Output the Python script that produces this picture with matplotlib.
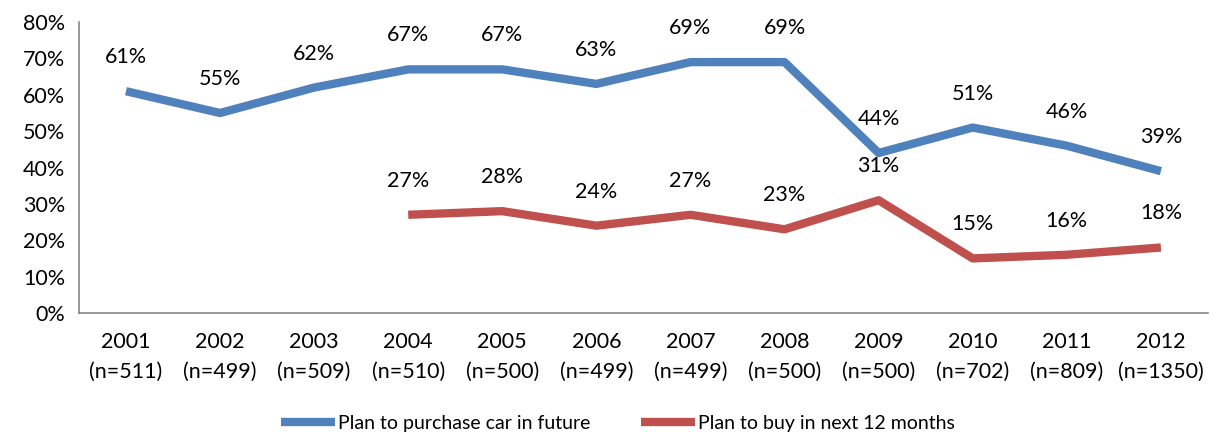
import matplotlib
matplotlib.use("Agg")
import matplotlib.pyplot as plt
import numpy as np

years = ["2001", "2002", "2003", "2004", "2005", "2006", "2007", "2008", "2009", "2010", "2011", "2012"]
ns = ["511", "499", "509", "510", "500", "499", "499", "500", "500", "702", "809", "1350"]
future = [61, 55, 62, 67, 67, 63, 69, 69, 44, 51, 46, 39]
next12 = [np.nan, np.nan, np.nan, 27, 28, 24, 27, 23, 31, 15, 16, 18]

plt.rcParams['font.family'] = ['Lato', 'DejaVu Sans']

fig = plt.figure(figsize=(12.14, 4.34), dpi=100)
ax = fig.add_axes([0.065, 0.279, 0.93, 0.67])

x = np.arange(len(years))
blue = "#4F81BD"
red = "#C0504D"
ax.plot(x, future, color=blue, lw=6, solid_joinstyle='round', solid_capstyle='butt',
        label="Plan to purchase car in future")
ax.plot(x, next12, color=red, lw=6, solid_joinstyle='round', solid_capstyle='butt',
        label="Plan to buy in next 12 months")

fs = 15.5
for xi, v in zip(x, future):
    ax.annotate(f"{v}%", (xi, v), xytext=(0, 24.5), textcoords='offset points',
                ha='center', va='center', fontsize=fs)
for xi, v in zip(x, next12):
    if not np.isnan(v):
        ax.annotate(f"{v:.0f}%", (xi, v), xytext=(0, 24.5), textcoords='offset points',
                    ha='center', va='center', fontsize=fs)

ax.set_xlim(-0.5, len(years) - 0.5)
ax.set_ylim(0, 80)
ax.set_yticks(range(0, 81, 10))
ax.set_yticklabels([f"{t}%" for t in range(0, 81, 10)], fontsize=fs)
ax.set_xticks(x)
ax.set_xticklabels([f"{y}\n(n={n})" for y, n in zip(years, ns)], fontsize=fs, linespacing=1.6)
ax.tick_params(axis='y', length=0, pad=10)
ax.tick_params(axis='x', length=0, pad=14)

for s in ['top', 'right']:
    ax.spines[s].set_visible(False)
for s in ['left', 'bottom']:
    ax.spines[s].set_color('#868686')
    ax.spines[s].set_linewidth(1.2)

fig.legend(loc='center', bbox_to_anchor=(0.509, 0.025), ncol=2, frameon=False,
           fontsize=14, handlelength=2.8, handletextpad=0.15, columnspacing=2.6)

fig.savefig("out.png", dpi=100)
